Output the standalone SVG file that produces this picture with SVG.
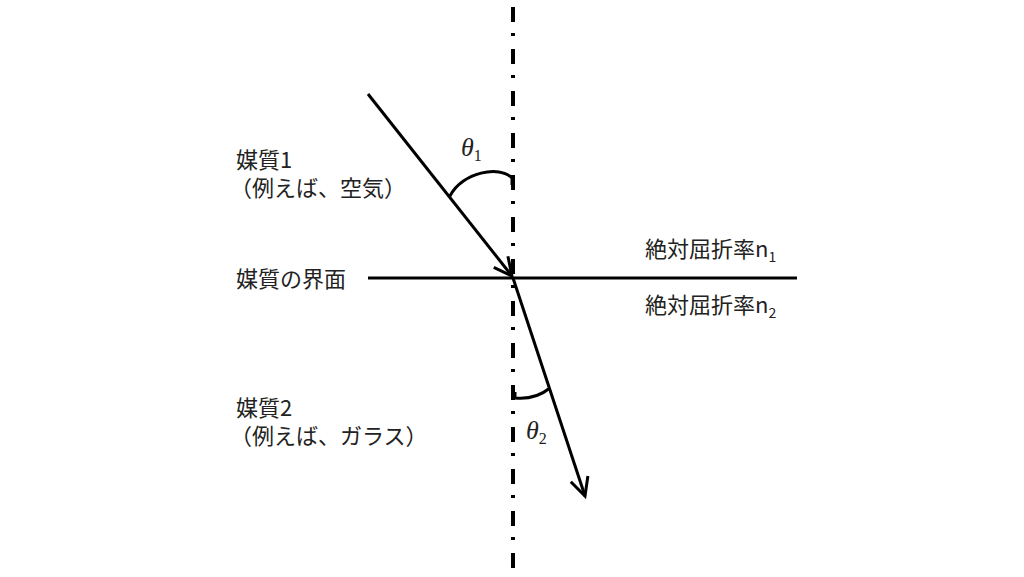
<svg xmlns="http://www.w3.org/2000/svg" width="1024" height="577" viewBox="0 0 1024 577">
<style>
.lbl{font-family:"Noto Sans CJK JP","Noto Sans",sans-serif;font-size:22px;fill:#222}
.sub{font-size:14px}
.th{font-family:"Liberation Serif",serif;font-style:italic;font-size:26px;fill:#222}
.ths{font-family:"Liberation Serif",serif;font-style:normal;font-size:16px}
.ray{stroke:#000;stroke-width:3;fill:none}
</style>
<defs>
<marker id="arr" markerUnits="userSpaceOnUse" markerWidth="30" markerHeight="30" viewBox="-20 -15 30 30" refX="0" refY="0" orient="auto">
<path d="M-18,-9 L0,0 L-18,9" fill="none" stroke="#000" stroke-width="3" stroke-linejoin="miter"/>
</marker>
</defs>
<rect width="1024" height="577" fill="#fff"/>
<g id="connectors">
<line id="normal" x1="513" y1="7" x2="513" y2="572" stroke="#000" stroke-width="4" stroke-dasharray="15 11 3 13"/>
<line id="interface" x1="368" y1="278" x2="797" y2="278" class="ray"/>
<line id="incident" x1="368" y1="94" x2="512" y2="276" class="ray" marker-end="url(#arr)"/>
<line id="refracted" x1="513" y1="278" x2="585" y2="496" class="ray" marker-end="url(#arr)"/>
<path id="arc1" d="M450,196 C462,172 500,165 512,178 L512,185" class="ray"/>
<path id="arc2" d="M515,392 L515,398 Q535,400 550,388" class="ray"/>
</g>
<g id="medium1"><text class="lbl" x="236" y="168">媒質1</text><text class="lbl" x="230" y="196">（例えば、空気）</text></g>
<g id="interface-label"><text class="lbl" x="236" y="287">媒質の界面</text></g>
<g id="medium2"><text class="lbl" x="236" y="416">媒質2</text><text class="lbl" x="230" y="444">（例えば、ガラス）</text></g>
<g id="n1"><text class="lbl" x="645" y="257">絶対屈折率n<tspan class="sub" dy="5">1</tspan></text></g>
<g id="n2"><text class="lbl" x="645" y="313">絶対屈折率n<tspan class="sub" dy="5">2</tspan></text></g>
<g id="theta1"><text class="th" x="461" y="156">θ<tspan class="ths" dy="5">1</tspan></text></g>
<g id="theta2"><text class="th" x="526" y="439">θ<tspan class="ths" dy="5">2</tspan></text></g>
</svg>
